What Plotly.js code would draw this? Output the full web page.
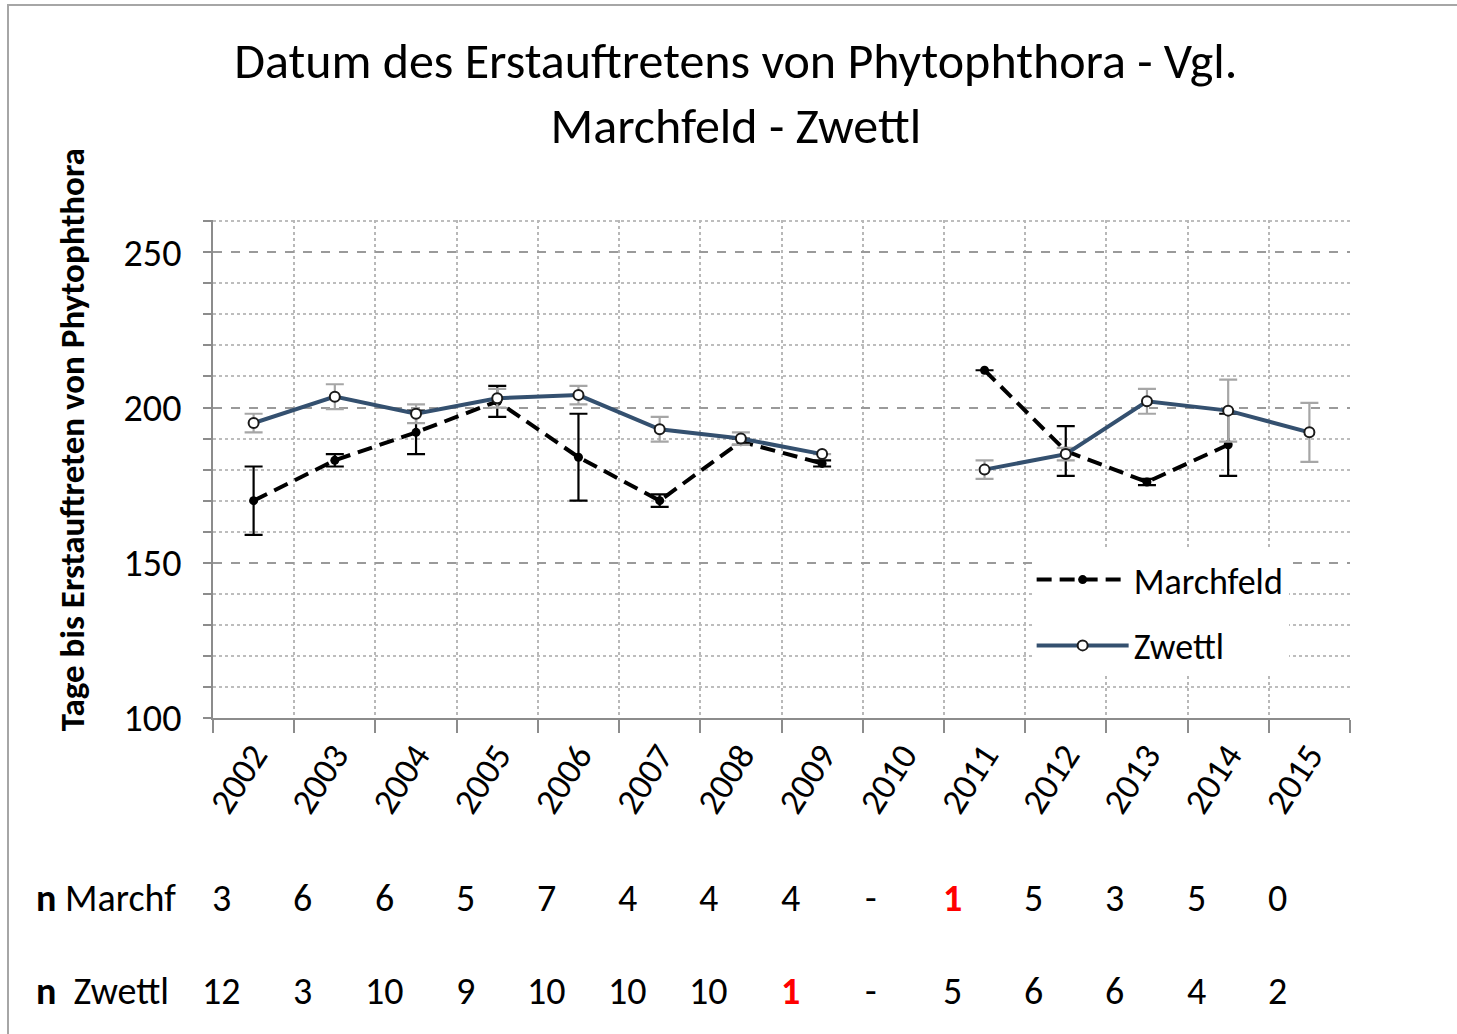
<!DOCTYPE html>
<html>
<head>
<meta charset="utf-8">
<script src="https://cdn.plot.ly/plotly-3.0.1.min.js"></script>
<style>
  html, body { margin:0; padding:0; background:#fff; }
  #chart { position:absolute; left:0; top:0; width:1457px; height:1034px; }
  #frame { position:absolute; left:7px; top:4px; width:1460px; height:1040px; border:2px solid #a6a6a6; pointer-events:none; }
</style>
</head>
<body>
<div id="chart"></div>
<div id="frame"></div>
<script>
// ---- data ----
const years = ['2002','2003','2004','2005','2006','2007','2008','2009','2010','2011','2012','2013','2014','2015'];
const marchfeld    = [170, 183, 192, 202, 184, 170, 189, 182, null, 212, 186, 176, 188, null];
const marchfeldErr = [11, 2, 7, 5, 14, 2, 1, 1, null, 0, 8, 1, 10, null];
const zwettl       = [195, 203.5, 198, 203, 204, 193, 190, 185, null, 180, 185, 202, 199, 192];
const zwettlErr    = [3, 4, 3, 3, 3, 4, 2, 0, null, 3, 2, 4, 10, 9.5];
const nMarchf = ['3','6','6','5','7','4','4','4','-','1','5','3','5','0'];
const nZwettl = ['12','3','10','9','10','10','10','1','-','5','6','6','4','2'];
const redMarchf = ['2011'];
const redZwettl = ['2009'];
const titleText = 'Datum des Erstauftretens von Phytophthora - Vgl.<br>Marchfeld - Zwettl';
const yTitleText = 'Tage bis Erstauftreten von Phytophthora';

const FONT = 'Carlito, Lato, "Open Sans", sans-serif';

const traces = [
  {
    x: years, y: marchfeld, name: 'Marchfeld', type: 'scatter', mode: 'lines+markers',
    legendgroup: 'm',
    connectgaps: false,
    line: { color: '#000000', width: 4, dash: '15px,8px' },
    marker: { symbol: 'circle', size: 9, color: '#000000' },
    error_y: { type: 'data', array: marchfeldErr, visible: true, color: '#000000', thickness: 2.2, width: 9 }
  },
  {
    x: years, y: zwettl, name: 'Zwettl', type: 'scatter', mode: 'lines+markers',
    legendgroup: 'z',
    connectgaps: false,
    line: { color: '#34506f', width: 4 },
    marker: { symbol: 'circle', size: 10, color: '#ffffff', line: { color: '#1a1a1a', width: 2 } },
    error_y: { type: 'data', array: zwettlErr, visible: true, color: '#a6a6a6', thickness: 2.2, width: 9 }
  }
];

const annotations = [];
// y-axis title
annotations.push({
  text: '<b>' + yTitleText + '</b>', textangle: -90,
  xref: 'paper', yref: 'paper', x: -0.124, y: 0.558,
  xanchor: 'center', yanchor: 'middle', showarrow: false,
  font: { family: FONT, size: 35, color: '#000' }
});
// row labels
annotations.push({
  text: '<b>n</b> Marchf', xref: 'paper', yref: 'paper', x: -0.157, y: -0.362,
  xanchor: 'left', yanchor: 'middle', showarrow: false,
  font: { family: FONT, size: 38, color: '#000' }
});
annotations.push({
  text: '<b>n</b>  Zwettl', xref: 'paper', yref: 'paper', x: -0.157, y: -0.548,
  xanchor: 'left', yanchor: 'middle', showarrow: false,
  font: { family: FONT, size: 38, color: '#000' }
});
years.forEach((yr, i) => {
  const xp = (i + 0.5) / years.length;
  const rm = redMarchf.includes(yr);
  annotations.push({
    text: rm ? '<b>' + nMarchf[i] + '</b>' : nMarchf[i],
    xref: 'paper', yref: 'paper', x: xp, y: -0.362, xshift: -32,
    xanchor: 'center', yanchor: 'middle', showarrow: false,
    font: { family: FONT, size: 38, color: rm ? '#ff0000' : '#000' }
  });
  const rz = redZwettl.includes(yr);
  annotations.push({
    text: rz ? '<b>' + nZwettl[i] + '</b>' : nZwettl[i],
    xref: 'paper', yref: 'paper', x: xp, y: -0.548, xshift: -32,
    xanchor: 'center', yanchor: 'middle', showarrow: false,
    font: { family: FONT, size: 38, color: rz ? '#ff0000' : '#000' }
  });
});

const layout = {
  width: 1457, height: 1034,
  margin: { l: 213, r: 107, t: 220, b: 316 },
  paper_bgcolor: '#ffffff', plot_bgcolor: '#ffffff',
  font: { family: FONT, color: '#000' },
  title: {
    text: titleText, xref: 'container', yref: 'container',
    x: 0.505, xanchor: 'center', y: 0.925, yanchor: 'middle',
    font: { family: FONT, size: 50, color: '#000' }
  },
  showlegend: true,
  legend: {
    x: 0.72, y: 0.338, xanchor: 'left', yanchor: 'top',
    bgcolor: '#ffffff', borderwidth: 0,
    font: { family: FONT, size: 36, color: '#000' },
    traceorder: 'grouped', tracegroupgap: 16, itemwidth: 92
  },
  xaxis: {
    type: 'category', range: [-0.5, 13.5],
    tickson: 'boundaries', ticks: 'outside', ticklen: 13, tickwidth: 2, tickcolor: '#8c8c8c',
    showline: true, linecolor: '#8c8c8c', linewidth: 2,
    showgrid: true, gridcolor: '#b8b8b8', griddash: 'dot', gridwidth: 2,
    tickangle: -57, tickfont: { family: FONT, size: 36, color: '#000' },
    fixedrange: true
  },
  yaxis: {
    range: [100, 260.4], dtick: 50, tick0: 100,
    ticks: 'outside', ticklen: 8, tickwidth: 2, tickcolor: '#8c8c8c',
    ticklabelstandoff: 14,
    showline: true, linecolor: '#8c8c8c', linewidth: 2,
    showgrid: true, gridcolor: '#9a9a9a', griddash: 'dash', gridwidth: 2,
    zeroline: false,
    minor: { dtick: 10, tick0: 100, showgrid: true, gridcolor: '#bdbdbd', griddash: 'dot', gridwidth: 2,
             ticks: 'outside', ticklen: 8, tickcolor: '#8c8c8c', tickwidth: 2 },
    tickfont: { family: FONT, size: 38, color: '#000' },
    fixedrange: true
  },
  annotations: annotations
};

Plotly.newPlot('chart', traces, layout, { displayModeBar: false, staticPlot: true });
</script>
</body>
</html>
